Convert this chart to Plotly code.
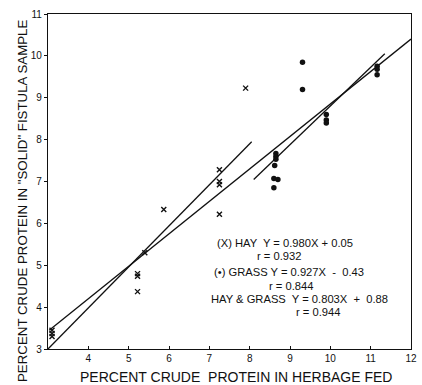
import plotly.graph_objects as go

# Hay samples (x markers)
hay_x = [3.1, 3.1, 3.1, 5.22, 5.22, 5.22, 5.4, 5.87, 7.25, 7.25, 7.25, 7.25, 7.9]
hay_y = [3.45, 3.37, 3.3, 4.8, 4.74, 4.37, 5.3, 6.33, 7.28, 7.0, 6.92, 6.22, 9.23]

# Grass samples (dots)
grass_x = [8.65, 8.65, 8.65, 8.62, 8.6, 8.7, 8.6, 9.31, 9.31, 9.9, 9.9, 9.9, 11.16, 11.16, 11.16]
grass_y = [7.67, 7.6, 7.53, 7.38, 7.07, 7.05, 6.85, 9.85, 9.2, 8.6, 8.47, 8.4, 9.75, 9.68, 9.55]

# Regression lines (end points as drawn)
hay_line_x = [3.0, 8.05]
hay_line_y = [3.0, 7.95]
grass_line_x = [8.1, 11.35]
grass_line_y = [7.05, 10.05]
both_line_x = [3.03, 12.0]
both_line_y = [3.45, 10.4]

x_ticks = [4, 5, 6, 7, 8, 9, 10, 11, 12]
y_ticks = [3, 4, 5, 6, 7, 8, 9, 10, 11]

x_title = "PERCENT CRUDE  PROTEIN IN HERBAGE FED"
y_title = 'PERCENT CRUDE PROTEIN IN "SOLID" FISTULA SAMPLE'

ann_lines = [
    ("(X) HAY  Y = 0.980X + 0.05", 285, 243),
    ("r = 0.932", 279, 256),
    ("(•) GRASS Y = 0.927X  -  0.43", 289, 272),
    ("r = 0.844", 291, 286),
    ("HAY & GRASS  Y = 0.803X  +  0.88", 299, 299),
    ("r = 0.944", 318, 312),
]

FONT = "Liberation Sans"
INK = "#111111"

fig = go.Figure()
for lx, ly in [(hay_line_x, hay_line_y), (grass_line_x, grass_line_y), (both_line_x, both_line_y)]:
    fig.add_trace(go.Scatter(x=lx, y=ly, mode="lines", line=dict(color=INK, width=1.3),
                             showlegend=False, hoverinfo="skip"))
fig.add_trace(go.Scatter(x=hay_x, y=hay_y, mode="markers", name="Hay",
                         marker=dict(symbol="x-thin", size=5, line=dict(color=INK, width=1.4)),
                         showlegend=False))
fig.add_trace(go.Scatter(x=grass_x, y=grass_y, mode="markers", name="Grass",
                         marker=dict(symbol="circle", size=5.5, color=INK),
                         showlegend=False))

L, R, T, B = 48, 11, 14, 36
W, H = 422, 385
pw, ph = W - L - R, H - T - B


def px2paper(px, py):
    return (px - L) / pw, 1 - (py - T) / ph


for text, px, py in ann_lines:
    ax, ay = px2paper(px, py)
    fig.add_annotation(x=ax, y=ay, xref="paper", yref="paper",
                       text=text, showarrow=False, xanchor="center", yanchor="middle",
                       font=dict(family=FONT, size=11.2, color=INK))

ax, ay = px2paper(236, 377)
fig.add_annotation(x=ax, y=ay, xref="paper", yref="paper", text=x_title, showarrow=False,
                   xanchor="center", yanchor="middle",
                   font=dict(family=FONT, size=14, color=INK))
ax, ay = px2paper(22, 201)
fig.add_annotation(x=ax, y=ay, xref="paper", yref="paper", text=y_title, showarrow=False,
                   xanchor="center", yanchor="middle", textangle=-90,
                   font=dict(family=FONT, size=13.3, color=INK))

fig.update_layout(
    width=W, height=H,
    margin=dict(l=L, r=R, t=T, b=B, autoexpand=False),
    paper_bgcolor="white", plot_bgcolor="white",
    font=dict(family=FONT, color=INK),
)
fig.update_xaxes(range=[3, 12], tickvals=x_ticks, ticktext=[str(v) for v in x_ticks],
                 ticks="inside", ticklen=3, tickcolor=INK, tickwidth=1,
                 showgrid=False, zeroline=False, showline=True, linecolor=INK, linewidth=1.2,
                 mirror=True, tickfont=dict(size=10, family=FONT, color=INK))
fig.update_yaxes(range=[3, 11], tickvals=y_ticks, ticktext=[str(v) for v in y_ticks],
                 ticks="outside", ticklen=3, tickcolor=INK, tickwidth=1,
                 showgrid=False, zeroline=False, showline=True, linecolor=INK, linewidth=1.2,
                 mirror=True, tickfont=dict(size=10, family=FONT, color=INK))

fig.write_html("out.html")
